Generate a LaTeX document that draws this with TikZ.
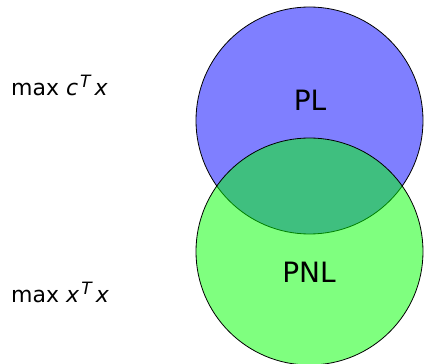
\documentclass[tikz,border=0pt]{standalone}
\usepackage{fontspec}
\setmainfont{DejaVu Sans}
\newcommand{\supT}{\raisebox{8pt}{\fontsize{17}{19}\selectfont\textit{T}}}
\begin{document}
\begin{tikzpicture}[x=1pt,y=1pt,
  setcircle/.style={draw=black,line width=0.8pt,fill opacity=0.5},
  setlabel/.style={font=\fontsize{28}{32}\selectfont,inner sep=0pt,anchor=base},
  problabel/.style={font=\fontsize{22}{26}\selectfont,inner sep=0pt,anchor=base west}]
\useasboundingbox (0,0) rectangle (424,364);
\fill[white] (0,0) rectangle (424,364);
\filldraw[setcircle,fill=blue] (309.5,243.5) circle (113.5);
\filldraw[setcircle,fill=green] (309.5,112.5) circle (113.5);
\node[setlabel] (pl) at (310,253) {PL};
\node[setlabel] (pnl) at (309,81) {PNL};
\node[problabel] (lp) at (11,268) {max\ \textit{c}\hspace{2pt}\supT\hspace{3pt}\textit{x}};
\node[problabel] (nlp) at (11,61) {max\ \textit{x}\hspace{2pt}\supT\hspace{3pt}\textit{x}};
\end{tikzpicture}
\end{document}
